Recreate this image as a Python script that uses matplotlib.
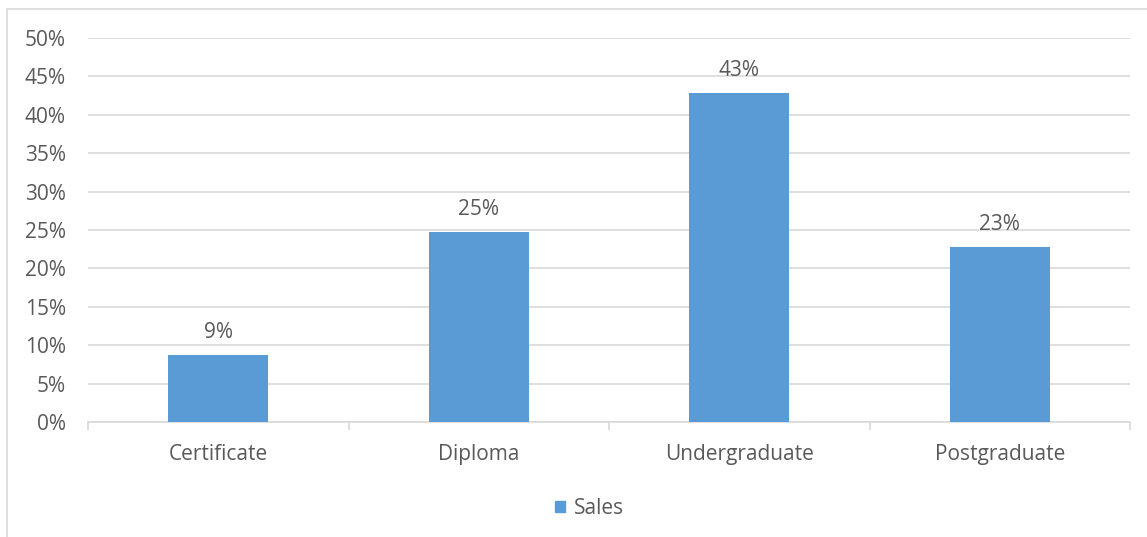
import matplotlib
matplotlib.use("Agg")
import matplotlib.pyplot as plt
from matplotlib.patches import Rectangle
from matplotlib.ticker import FuncFormatter, MultipleLocator

categories = ["Certificate", "Diploma", "Undergraduate", "Postgraduate"]
sales = [0.087, 0.247, 0.428, 0.228]
series_name = "Sales"

BAR = "#5B9BD5"
TEXT = "#595959"
GRID = "#D9D9D9"
FS = 15

plt.rcParams["font.family"] = ["Open Sans", "DejaVu Sans"]

W, H = 1147, 537
fig = plt.figure(figsize=(W / 100, H / 100), dpi=100)

# chart frame
fig.patches.append(Rectangle((7 / W, -0.1), 1.1, 1 - 9 / H + 0.1,
                             transform=fig.transFigure, fill=False,
                             edgecolor=GRID, linewidth=1.2))

ax = fig.add_axes([88 / W, 1 - 422 / H, (1130 - 88) / W, (422 - 38) / H])

x = range(len(categories))
ax.bar(x, sales, width=0.385, color=BAR, zorder=3)
for xi, v in zip(x, sales):
    ax.text(xi, v + 0.016, "{:.0%}".format(v), ha="center", va="bottom",
            fontsize=FS, color=TEXT)

ax.set_xlim(-0.5, len(categories) - 0.5)
ax.set_ylim(0, 0.5)
ax.yaxis.set_major_locator(MultipleLocator(0.05))
ax.yaxis.set_major_formatter(FuncFormatter(lambda v, p: "{:.0f}%".format(v * 100)))
ax.grid(axis="y", color=GRID, linewidth=1.2, zorder=0)

ax.set_xticks(x)
ax.set_xticklabels(categories)
ax.set_xticks([i - 0.5 for i in range(len(categories) + 1)], minor=True)
ax.tick_params(axis="x", which="major", length=0, pad=16, labelsize=FS, labelcolor=TEXT)
ax.tick_params(axis="x", which="minor", length=6, color=GRID, width=1.2)
ax.tick_params(axis="y", length=0, pad=16, labelsize=FS, labelcolor=TEXT)

for s in ["top", "right", "left"]:
    ax.spines[s].set_visible(False)
ax.spines["bottom"].set_color(GRID)
ax.spines["bottom"].set_linewidth(1.2)

ax.legend([Rectangle((0, 0), 1, 1, color=BAR)], [series_name],
          loc="center", bbox_to_anchor=(0.481, -0.225), frameon=False,
          fontsize=FS, labelcolor=TEXT, handlelength=0.5, handleheight=0.5,
          handletextpad=0.4)

fig.savefig("out.png", dpi=100)
